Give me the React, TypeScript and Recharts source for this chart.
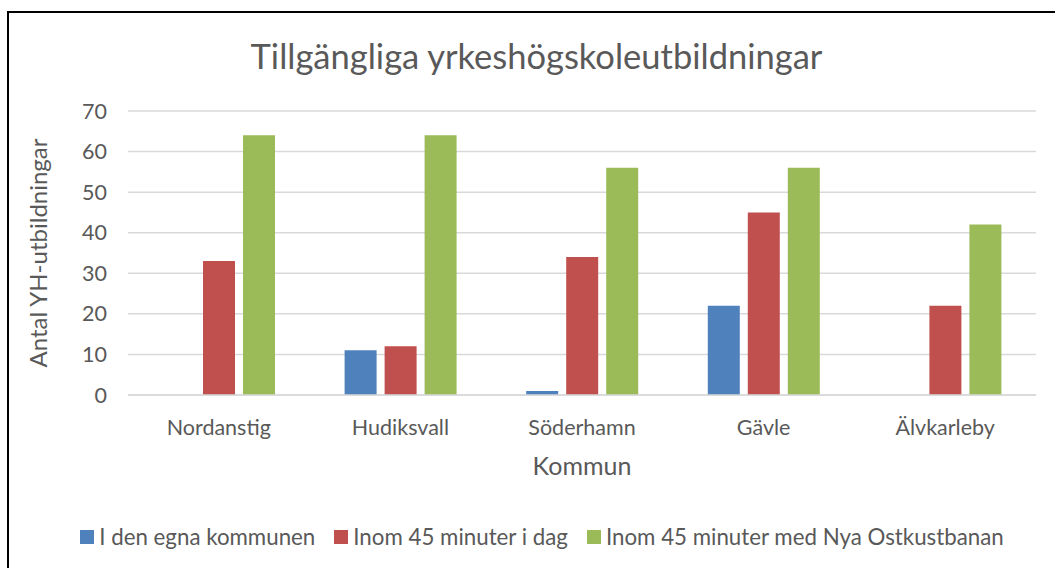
import { Bar, BarChart, CartesianGrid, Legend, XAxis, YAxis } from "recharts";

const BLUE = "#4F81BD";
const RED = "#C0504D";
const GREEN = "#9BBB59";
const INK = "#595959";
const GRID = "#D9D9D9";
const FONT = "Lato, 'Open Sans', sans-serif";

const kommuner = ["Nordanstig", "Hudiksvall", "Söderhamn", "Gävle", "Älvkarleby"];
const egna = [0, 11, 1, 22, 0];
const idag = [33, 12, 34, 45, 22];
const nyaOstkustbanan = [64, 64, 56, 56, 42];
const yTicks = [0, 10, 20, 30, 40, 50, 60, 70];

const data = kommuner.map((name, i) => ({
  name,
  egna: egna[i],
  idag: idag[i],
  ny: nyaOstkustbanan[i],
}));

function LegendRow({ payload }: any) {
  return (
    <div
      style={{
        display: "flex",
        justifyContent: "center",
        height: 30,
        lineHeight: "30px",
        fontSize: 22.3,
        color: INK,
        fontFamily: FONT,
      }}
    >
      {(payload || []).map((p: any, i: number) => (
        <span key={i} style={{ display: "flex", alignItems: "center", marginRight: i < 2 ? 19 : 0 }}>
          <span style={{ width: 14, height: 14, background: p.color, marginRight: 5, display: "inline-block" }} />
          {p.value}
        </span>
      ))}
    </div>
  );
}

export default function App() {
  return (
    <div
      style={{
        position: "fixed",
        left: 0,
        top: 0,
        width: 1055,
        height: 568,
        overflow: "hidden",
        background: "#fff",
        fontFamily: FONT,
      }}
    >
      <div
        style={{
          position: "absolute",
          left: 7,
          top: 11,
          width: 1100,
          height: 600,
          border: "2px solid #000",
          boxSizing: "border-box",
        }}
      />
      <div
        style={{
          position: "absolute",
          left: 0,
          width: 1073,
          top: 36,
          textAlign: "center",
          fontSize: 34.5,
          color: INK,
          lineHeight: "40px",
        }}
      >
        Tillgängliga yrkeshögskoleutbildningar
      </div>
      <div style={{ position: "absolute", left: 0, top: 0 }}>
        <BarChart
          width={1055}
          height={568}
          data={data}
          margin={{ top: 111, right: 19, bottom: 0, left: 0 }}
          barSize={32}
          barGap={8}
        >
          <CartesianGrid vertical={false} stroke={GRID} strokeWidth={1.5} />
          <XAxis
            dataKey="name"
            axisLine={{ stroke: GRID, strokeWidth: 1.5 }}
            tickLine={false}
            tick={{ fontSize: 21.5, fill: INK, fontFamily: FONT }}
            tickMargin={19}
            height={143}
            interval={0}
            label={{
              value: "Kommun",
              position: "insideTop",
              offset: 62,
              fontSize: 25,
              fill: INK,
              fontFamily: FONT,
            }}
          />
          <YAxis
            width={128}
            domain={[0, 70]}
            ticks={yTicks}
            axisLine={false}
            tickLine={false}
            tickSize={0}
            tickMargin={21}
            tick={{ fontSize: 21.5, fill: INK, fontFamily: FONT }}
            label={{
              value: "Antal YH-utbildningar",
              angle: -90,
              position: "insideLeft",
              offset: 38,
              style: { textAnchor: "middle" },
              fontSize: 24,
              fill: INK,
              fontFamily: FONT,
            }}
          />
          <Legend
            verticalAlign="bottom"
            align="center"
            content={<LegendRow />}
            wrapperStyle={{ bottom: 16, left: 24 }}
          />
          <Bar dataKey="egna" name="I den egna kommunen" fill={BLUE} isAnimationActive={false} />
          <Bar dataKey="idag" name="Inom 45 minuter i dag" fill={RED} isAnimationActive={false} />
          <Bar dataKey="ny" name="Inom 45 minuter med Nya Ostkustbanan" fill={GREEN} isAnimationActive={false} />
        </BarChart>
      </div>
    </div>
  );
}
